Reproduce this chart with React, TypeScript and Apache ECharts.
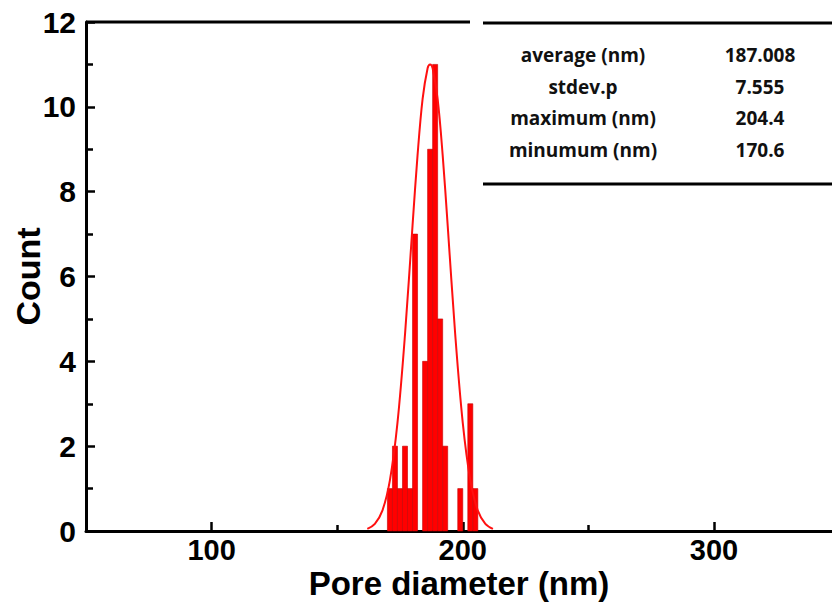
import React, { useEffect, useRef } from "react";
import * as echarts from "echarts";

const binStarts = [170, 172, 174, 176, 178, 180, 182, 184, 186, 188, 190, 192, 194, 196, 198, 200, 202, 204];
const binCounts = [1, 2, 1, 2, 1, 7, 0, 4, 9, 11, 5, 2, 0, 0, 1, 0, 3, 1];
const binWidth = 2;
const fitX = [162, 165, 168, 171, 174, 177, 180, 182, 184, 186, 187, 188, 190, 192, 194, 197, 200, 203, 206, 209, 212];
const fitY = [0.05, 0.17, 0.48, 1.2, 2.55, 4.63, 7.2, 8.86, 10.18, 10.91, 11, 10.91, 10.18, 8.86, 7.2, 4.63, 2.55, 1.2, 0.48, 0.17, 0.05];
const xMajorTicks = [100, 200, 300];
const xMinorTicks = [150, 250];
const statLabels = ["average (nm)", "stdev.p", "maximum (nm)", "minumum (nm)"];
const statValues = ["187.008", "7.555", "204.4", "170.6"];

const FONT = "'Liberation Sans', Arial, Helvetica, sans-serif";
const TFONT = "'Open Sans', 'Liberation Sans', sans-serif";

export default function App() {
  const ref = useRef<HTMLDivElement>(null);
  useEffect(() => {
    if (!ref.current) return;
    const chart = echarts.init(ref.current, undefined, { renderer: "svg" });
    const rowY = [55, 87, 118, 150];
    const tableTexts: any[] = [];
    statLabels.forEach((s, i) => {
      tableTexts.push({
        type: "text",
        x: 583,
        y: rowY[i],
        style: { text: s, fill: "#111", font: `bold 19px ${TFONT}`, textAlign: "center", textVerticalAlign: "middle" },
      });
      tableTexts.push({
        type: "text",
        x: 760,
        y: rowY[i],
        style: { text: statValues[i], fill: "#111", font: `bold 19px ${TFONT}`, textAlign: "center", textVerticalAlign: "middle" },
      });
    });
    const axisLineStyle = { color: "#000", width: 3 };
    chart.setOption({
      animation: false,
      backgroundColor: "#fff",
      grid: { left: 86, top: 22, right: 0, bottom: 76, containLabel: false, outerBoundsMode: "none" },
      xAxis: [
        {
          type: "value",
          min: 50,
          max: 347,
          interval: 50,
          position: "bottom",
          axisLine: { show: true, lineStyle: axisLineStyle },
          axisTick: { show: true, inside: true, length: 9, customValues: xMajorTicks, lineStyle: { color: "#000", width: 2.5 } },
          axisLabel: {
            customValues: xMajorTicks,
            formatter: (v: number) => (v % 100 === 0 ? String(v) : ""),
            hideOverlap: false,
            fontSize: 29,
            fontWeight: "bold",
            fontFamily: FONT,
            color: "#000",
            margin: 4,
          },
          splitLine: { show: false },
          name: "Pore diameter (nm)",
          nameLocation: "middle",
          nameGap: 36,
          nameMoveOverlap: false,
          nameTextStyle: { fontSize: 33, fontWeight: "bold", fontFamily: FONT, color: "#000", verticalAlign: "top" },
        },
        {
          type: "value",
          min: 50,
          max: 347,
          interval: 50,
          position: "bottom",
          axisLine: { show: false },
          axisTick: { show: true, inside: true, length: 6, customValues: xMinorTicks, lineStyle: { color: "#000", width: 2.5 } },
          axisLabel: { show: false },
          splitLine: { show: false },
        },
      ],
      yAxis: {
        type: "value",
        min: 0,
        max: 12,
        interval: 2,
        axisLine: { show: true, lineStyle: axisLineStyle },
        axisTick: { show: true, inside: true, length: 9, lineStyle: { color: "#000", width: 2.5 } },
        minorTick: { show: true, splitNumber: 2, length: 7, lineStyle: { color: "#000", width: 2.5 } },
        splitLine: { show: false },
        axisLabel: { fontSize: 30, fontWeight: "bold", fontFamily: FONT, color: "#000", margin: 10 },
        name: "Count",
        nameLocation: "middle",
        nameGap: 41,
        nameMoveOverlap: false,
        nameRotate: 90,
        nameTextStyle: { fontSize: 34, fontWeight: "bold", fontFamily: FONT, color: "#000" },
      },
      series: [
        {
          type: "custom",
          xAxisIndex: 0,
          yAxisIndex: 0,
          z: 2,
          encode: { x: 0, y: 1 },
          data: binStarts.map((s, i) => [s, binCounts[i]]),
          renderItem: (params: any, api: any) => {
            const x0 = api.value(0);
            const c = api.value(1);
            if (!c) return null;
            const p0 = api.coord([x0, c]);
            const p1 = api.coord([x0 + binWidth, 0]);
            return {
              type: "rect",
              shape: { x: p0[0], y: p0[1], width: p1[0] - p0[0], height: p1[1] - p0[1] },
              style: { fill: "#ff0000", stroke: "#c40000", lineWidth: 0.6 },
            };
          },
        },
        {
          type: "line",
          xAxisIndex: 0,
          yAxisIndex: 0,
          z: 3,
          smooth: 0.35,
          showSymbol: false,
          symbol: "none",
          data: fitX.map((x, i) => [x, fitY[i]]),
          lineStyle: { color: "#ff1010", width: 2 },
        },
      ],
      graphic: [
        { type: "line", shape: { x1: 86, y1: 22, x2: 470, y2: 22 }, style: { stroke: "#000", lineWidth: 3 }, z: 10 },
        { type: "line", shape: { x1: 483, y1: 23, x2: 832, y2: 23 }, style: { stroke: "#000", lineWidth: 3 }, z: 10 },
        { type: "line", shape: { x1: 483, y1: 184, x2: 832, y2: 184 }, style: { stroke: "#000", lineWidth: 3 }, z: 10 },
        ...tableTexts,
      ],
    });
    return () => chart.dispose();
  }, []);
  return <div ref={ref} style={{ position: "fixed", left: 0, top: 0, width: 832, height: 607, background: "#fff" }} />;
}
